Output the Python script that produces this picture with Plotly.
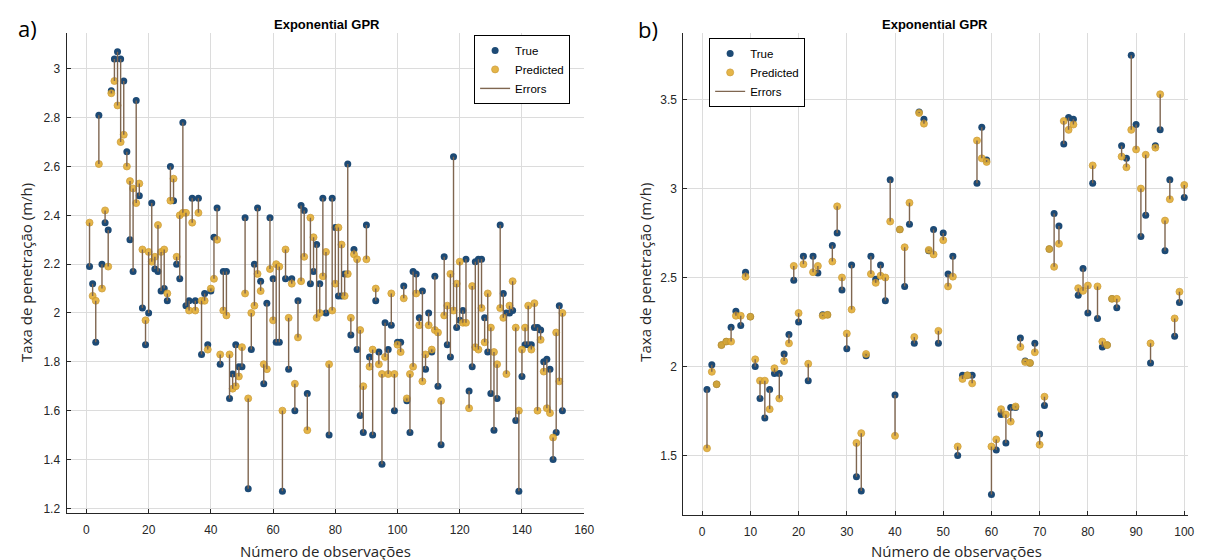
import plotly.graph_objects as go

# ---------------- data ----------------
left_true = [2.19, 2.12, 1.88, 2.81, 2.20, 2.37, 2.34, 2.91, 3.04, 3.07,
             3.04, 2.95, 2.66, 2.30, 2.17, 2.87, 2.48, 2.02, 1.87, 2.00,
             2.45, 2.18, 2.17, 2.09, 2.10, 2.05, 2.60, 2.46, 2.20, 2.14,
             2.78, 2.03, 2.05, 2.47, 2.05, 2.47, 1.83, 2.08, 1.87, 2.09,
             2.31, 2.43, 1.79, 2.17, 2.17, 1.65, 1.75, 1.87, 1.78, 1.78,
             2.39, 1.28, 1.85, 2.20, 2.43, 2.13, 1.71, 2.04, 2.39, 2.14,
             1.88, 1.88, 1.27, 2.14, 1.77, 2.14, 1.60, 2.05, 2.44, 2.42,
             1.67, 2.12, 2.17, 2.28, 2.12, 2.47, 2.00, 1.50, 2.47, 2.35,
             2.07, 2.07, 2.16, 2.61, 1.91, 2.26, 1.85, 1.58, 1.51, 2.36,
             1.82, 1.50, 2.05, 1.84, 1.38, 1.96, 1.85, 1.95, 1.60, 1.88,
             1.88, 2.11, 1.64, 1.51, 2.17, 2.16, 1.98, 2.09, 1.77, 2.00,
             1.84, 2.15, 1.70, 1.46, 2.23, 1.87, 1.82, 2.64, 1.94, 1.97,
             2.01, 2.22, 1.68, 1.78, 2.21, 2.22, 2.22, 1.98, 1.84, 1.67,
             1.52, 1.65, 2.36, 2.08, 2.00, 2.00, 2.01, 1.56, 1.27, 1.74,
             1.87, 1.87, 1.87, 1.94, 1.94, 1.93, 1.80, 1.81, 1.77, 1.40,
             1.51, 2.03, 1.60]
left_pred = [2.37, 2.07, 2.05, 2.61, 2.10, 2.42, 2.19, 2.90, 2.95, 2.85,
             2.70, 2.73, 2.60, 2.54, 2.51, 2.45, 2.53, 2.26, 1.97, 2.25,
             2.21, 2.23, 2.36, 2.25, 2.26, 2.08, 2.46, 2.55, 2.23, 2.40,
             2.41, 2.41, 2.01, 2.37, 2.01, 2.41, 2.05, 2.05, 1.85, 2.10,
             2.14, 2.30, 1.83, 2.01, 1.99, 1.83, 1.69, 1.70, 1.74, 1.86,
             2.08, 1.65, 2.00, 2.03, 2.16, 2.09, 1.79, 1.77, 2.18, 1.97,
             2.20, 2.19, 1.60, 2.26, 1.98, 2.12, 1.71, 1.90, 2.13, 2.23,
             1.52, 2.39, 2.31, 1.98, 2.00, 2.15, 2.25, 1.79, 2.01, 2.12,
             2.35, 2.28, 2.07, 2.16, 1.98, 2.24, 2.22, 1.93, 1.70, 2.22,
             1.78, 1.85, 2.10, 1.79, 1.75, 1.82, 1.75, 2.08, 1.75, 1.87,
             1.84, 2.06, 1.65, 1.75, 1.78, 2.08, 1.95, 1.72, 1.83, 1.95,
             1.85, 1.93, 1.92, 1.64, 1.99, 2.03, 2.16, 2.01, 2.12, 2.21,
             1.96, 1.96, 1.61, 2.11, 1.86, 1.85, 2.02, 1.88, 2.08, 1.94,
             1.84, 1.79, 2.02, 1.98, 1.75, 2.03, 2.13, 1.94, 1.60, 1.85,
             1.94, 2.03, 1.85, 2.04, 1.60, 1.89, 1.76, 1.61, 1.59, 1.49,
             1.92, 1.72, 2.00]

right_true = [1.87, 2.01, 1.90, 2.12, 2.14, 2.22, 2.31, 2.23, 2.53, 2.28,
              2.00, 1.82, 1.71, 1.87, 1.96, 1.96, 2.07, 2.18, 2.485, 2.25,
              2.62, 1.92, 2.62, 2.525, 2.29, 2.29, 2.68, 2.75, 2.43, 2.10,
              2.57, 1.38, 1.30, 2.06, 2.62, 2.49, 2.57, 2.37, 3.05, 1.84,
              2.77, 2.45, 2.80, 2.13, 3.43, 3.39, 2.65, 2.77, 2.13, 2.75,
              2.52, 2.62, 1.50, 1.95, 1.95, 1.95, 3.03, 3.345, 3.16, 1.28,
              1.53, 1.73, 1.57, 1.77, 1.77, 2.16, 2.03, 2.02, 2.13, 1.62,
              1.78, 2.66, 2.86, 2.79, 3.25, 3.40, 3.39, 2.40, 2.55, 2.30,
              3.03, 2.27, 2.11, 2.12, 2.38, 2.33, 3.24, 3.17, 3.75, 3.36,
              2.73, 2.85, 2.02, 3.24, 3.33, 2.65, 3.05, 2.17, 2.36, 2.95]
right_pred = [1.54, 1.97, 1.90, 2.12, 2.14, 2.14, 2.285, 2.285, 2.505, 2.28,
              2.04, 1.92, 1.92, 1.76, 1.99, 1.82, 2.03, 2.13, 2.565, 2.30,
              2.575, 2.015, 2.53, 2.565, 2.285, 2.29, 2.59, 2.90, 2.50, 2.185,
              2.32, 1.57, 1.625, 2.07, 2.52, 2.47, 2.51, 2.50, 2.815, 1.61,
              2.77, 2.67, 2.92, 2.165, 3.425, 3.365, 2.655, 2.63, 2.20, 2.71,
              2.45, 2.505, 1.55, 1.93, 1.95, 1.905, 3.27, 3.17, 3.15, 1.55,
              1.59, 1.76, 1.73, 1.69, 1.775, 2.11, 2.025, 2.02, 2.08, 1.56,
              1.83, 2.66, 2.56, 2.69, 3.38, 3.33, 3.36, 2.44, 2.425, 2.455,
              3.13, 2.45, 2.14, 2.12, 2.38, 2.38, 3.18, 3.12, 3.33, 3.22,
              3.00, 3.19, 2.13, 3.23, 3.53, 2.82, 2.94, 2.27, 2.42, 3.02]

left_xticks = [0, 20, 40, 60, 80, 100, 120, 140, 160]
left_yticks = [1.2, 1.4, 1.6, 1.8, 2.0, 2.2, 2.4, 2.6, 2.8, 3.0]
left_ytext = ["1.2", "1.4", "1.6", "1.8", "2", "2.2", "2.4", "2.6", "2.8", "3"]
right_xticks = [0, 10, 20, 30, 40, 50, 60, 70, 80, 90, 100]
right_yticks = [1.5, 2.0, 2.5, 3.0, 3.5]
right_ytext = ["1.5", "2", "2.5", "3", "3.5"]

panel_title = "Exponential GPR"
x_title = "Número de observações"
y_title = "Taxa de penetração (m/h)"
names = ["True", "Predicted", "Errors"]

# ---------------- styling ----------------
W, H = 1208, 560
def px(x):
    return x / W
def py(y):
    return 1 - y / H

C_TRUE = "#1d4a75"
C_PRED = "#e3ae35"
C_PRED_EDGE = "#c9952b"
C_ERR = "#7f6650"
AX = "#262626"
GRID = "#dcdcdc"
TICKFONT = dict(family="Liberation Sans, Arial", size=12, color=AX)


def add_panel(fig, true_vals, pred_vals, xa, ya, legend):
    obs = list(range(1, len(true_vals) + 1))
    fig.add_trace(go.Scatter(x=obs, y=true_vals, mode="markers", name=names[0],
                             marker=dict(color=C_TRUE, size=7, line=dict(width=0)),
                             xaxis=xa, yaxis=ya, legend=legend))
    fig.add_trace(go.Scatter(x=obs, y=pred_vals, mode="markers", name=names[1],
                             marker=dict(color=C_PRED, size=7, opacity=0.9,
                                         line=dict(width=0.8, color=C_PRED_EDGE)),
                             xaxis=xa, yaxis=ya, legend=legend))
    ex, ey = [], []
    for o, t, p in zip(obs, true_vals, pred_vals):
        ex += [o, o, None]
        ey += [t, p, None]
    fig.add_trace(go.Scatter(x=ex, y=ey, mode="lines", name=names[2],
                             line=dict(color=C_ERR, width=1.4),
                             xaxis=xa, yaxis=ya, legend=legend))


fig = go.Figure()
add_panel(fig, left_true, left_pred, "x", "y", "legend")
add_panel(fig, right_true, right_pred, "x2", "y2", "legend2")

axis_common = dict(showline=True, linecolor=AX, linewidth=1, mirror=False,
                   showgrid=True, gridcolor=GRID, gridwidth=1, zeroline=False,
                   ticks="inside", ticklen=4, tickcolor=AX, tickfont=TICKFONT)

legend_common = dict(xanchor="left", yanchor="top",
                     bgcolor="white", bordercolor="#000000", borderwidth=1,
                     font=dict(family="Liberation Sans, Arial", size=11.5, color="#000"),
                     tracegroupgap=0, itemwidth=30)

fig.update_layout(
    width=W, height=H,
    margin=dict(l=0, r=0, t=0, b=0),
    paper_bgcolor="white", plot_bgcolor="white",
    xaxis=dict(domain=[px(59), px(581)], range=[-6.4, 160], anchor="y",
               tickvals=left_xticks, ticklabelstandoff=5, **axis_common),
    yaxis=dict(domain=[py(507), py(25)], range=[1.18, 3.147], anchor="x",
               tickvals=left_yticks, ticktext=left_ytext, ticklabelstandoff=3,
               **axis_common),
    xaxis2=dict(domain=[px(681), px(1190)], range=[-3.9, 100.8], anchor="y2",
                tickvals=right_xticks, ticklabelstandoff=5, **axis_common),
    yaxis2=dict(domain=[py(509), py(25)], range=[1.164, 3.875], anchor="x2",
                tickvals=right_yticks, ticktext=right_ytext, ticklabelstandoff=3,
                **axis_common),
    legend=dict(x=px(470), y=py(27), **legend_common),
    legend2=dict(x=px(707), y=py(30), **legend_common),
    showlegend=True,
)

ann_font_title = dict(family="Liberation Sans, Arial", size=13, color="#000")
ann_font_axis = dict(family="Open Sans", size=15, color=AX)
ann_font_label = dict(family="Open Sans", size=22, color="#000")

annotations = [
    dict(text="<b>" + panel_title + "</b>", x=px(322), y=py(17), font=ann_font_title),
    dict(text="<b>" + panel_title + "</b>", x=px(935), y=py(17), font=ann_font_title),
    dict(text=x_title, x=px(320), y=py(545), font=ann_font_axis),
    dict(text=x_title, x=px(956), y=py(545), font=ann_font_axis),
    dict(text=y_title, x=px(18), y=py(265), textangle=-90, font=ann_font_axis),
    dict(text=y_title, x=px(642), y=py(265), textangle=-90, font=ann_font_axis),
    dict(text="a)", x=px(20), y=py(20), font=ann_font_label),
    dict(text="b)", x=px(645), y=py(21), font=ann_font_label),
]
for a in annotations:
    a.update(xref="paper", yref="paper", showarrow=False,
             xanchor="center", yanchor="middle")
fig.update_layout(annotations=annotations)

fig.write_html("out.html")
